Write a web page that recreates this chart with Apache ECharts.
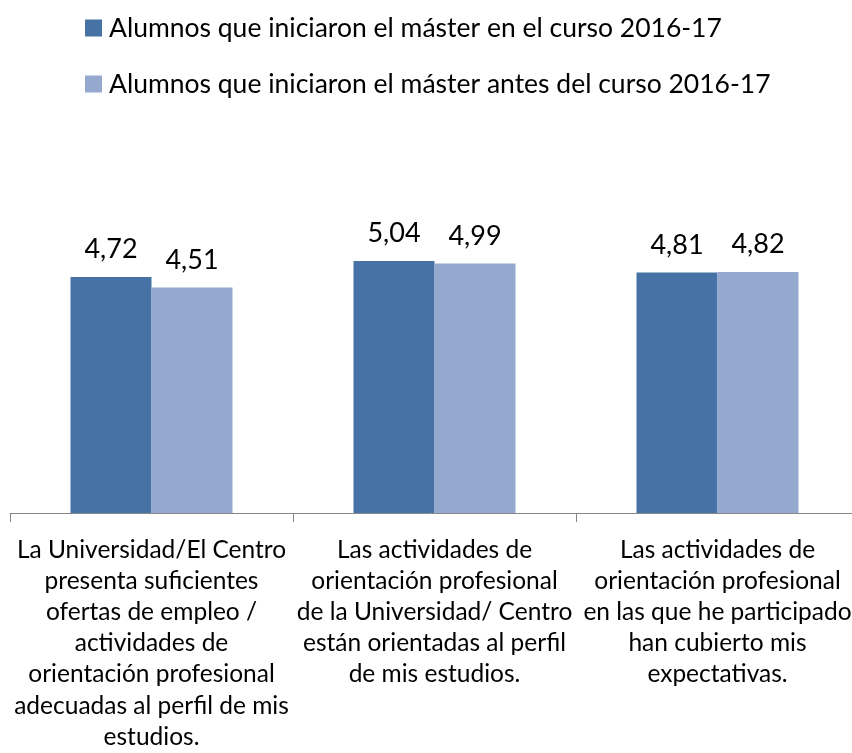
<!DOCTYPE html>
<html><head><meta charset="utf-8">
<script src="https://cdn.jsdelivr.net/npm/echarts@6/dist/echarts.min.js"></script>
<style>html,body{margin:0;padding:0;background:#fff}#c{width:852px;height:753px}</style>
</head><body><div id="c"></div>
<script>
var categories = [
  "La Universidad/El Centro\npresenta suficientes\nofertas de empleo /\nactividades de\norientación profesional\nadecuadas al perfil de mis\nestudios.",
  "Las actividades de\norientación profesional\nde la Universidad/ Centro\nestán orientadas al perfil\nde mis estudios.",
  "Las actividades de\norientación profesional\nen las que he participado\nhan cubierto mis\nexpectativas."
];
var seriesNames = [
  "Alumnos que iniciaron el máster en el curso 2016-17",
  "Alumnos que iniciaron el máster antes del curso 2016-17"
];
var valuesNew = [4.72, 5.04, 4.81];
var valuesBefore = [4.51, 4.99, 4.82];

var FONT = "Lato";
var chart = echarts.init(document.getElementById('c'), null, {renderer: 'canvas'});
function fmt(p){ return p.value.toFixed(2).replace('.', ','); }
chart.setOption({
  animation: false,
  textStyle: {fontFamily: FONT},
  legend: {
    orient: 'vertical', left: 80, top: 7,
    itemWidth: 17, itemHeight: 17, itemGap: 24,
    icon: 'rect',
    textStyle: {fontFamily: FONT, fontSize: 26.5, lineHeight: 32, color: '#000', padding: [0,0,0,2]},
    data: seriesNames
  },
  grid: {left: 10, width: 849, top: 213, bottom: 240, containLabel: false, outerBoundsMode: 'none'},
  xAxis: {
    type: 'category', data: categories,
    axisLine: {lineStyle: {color: '#878787', width: 1}},
    axisTick: {show: true, length: 9, lineStyle: {color: '#878787'}},
    axisLabel: {fontFamily: FONT, fontSize: 24.5, color: '#000', lineHeight: 31.2, margin: 21, interval: 0, hideOverlap: false}
  },
  yAxis: {type: 'value', min: 0, max: 6, show: false, splitLine: {show: false}},
  series: [
    {name: seriesNames[0], type: 'bar', data: valuesNew, barWidth: 81, barGap: '0%',
     itemStyle: {color: '#4672A6'},
     label: {show: true, position: 'top', distance: 14, formatter: fmt, fontFamily: FONT, fontSize: 27, color: '#000'}},
    {name: seriesNames[1], type: 'bar', data: valuesBefore, barWidth: 81, barGap: '0%',
     itemStyle: {color: '#95A9CF'},
     label: {show: true, position: 'top', distance: 14, formatter: fmt, fontFamily: FONT, fontSize: 27, color: '#000'}}
  ]
});
</script></body></html>
